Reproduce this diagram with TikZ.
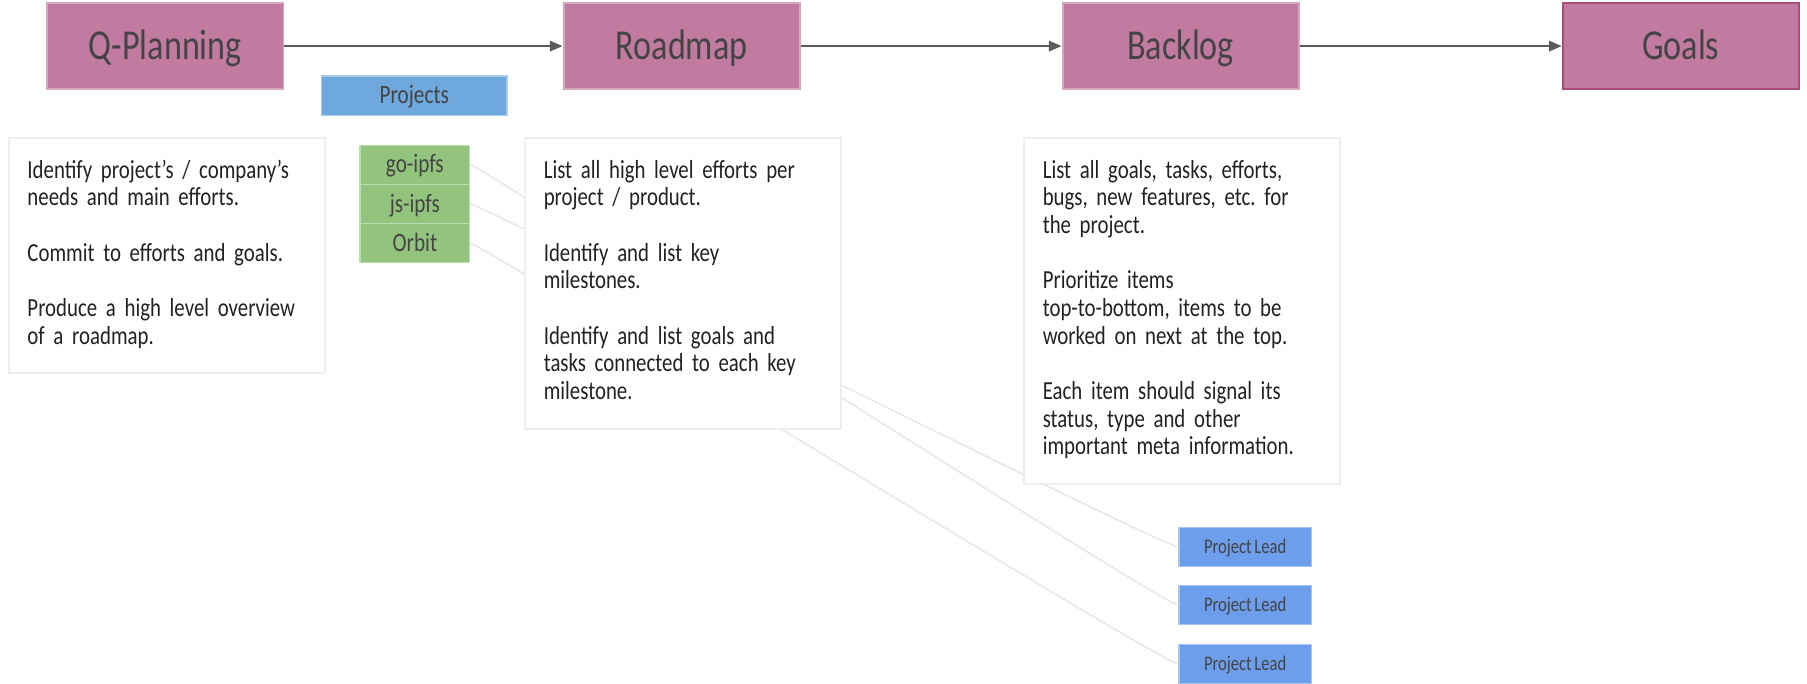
\documentclass[tikz,border=0pt]{standalone}
\usepackage{fontspec}
\setmainfont{Carlito}[FakeStretch=0.8, WordSpace=0.7]
\frenchspacing
\usetikzlibrary{arrows.meta}
\definecolor{stagepink}{HTML}{C27BA0}
\definecolor{stageedge}{HTML}{D5A6BD}
\definecolor{goaledge}{HTML}{A64D79}
\definecolor{projblue}{HTML}{6FA8DC}
\definecolor{leadblue}{HTML}{6D9EEB}
\definecolor{repogreen}{HTML}{93C47D}
\definecolor{noteedge}{HTML}{EEEEEE}
\definecolor{linkgray}{HTML}{E8E8E8}
\definecolor{arrowgray}{HTML}{5A5A5A}
\definecolor{labelgray}{HTML}{444444}
\definecolor{notetext}{HTML}{222222}

\begin{document}
\begin{tikzpicture}[x=1pt, y=-1pt,
        stage/.style={draw=stageedge, line width=1.7pt, fill=stagepink, minimum width=205pt, minimum height=74pt,
            text=labelgray, font=\fontsize{37}{40}\selectfont, text height=23pt, text depth=0pt},
        tag/.style={fill=#1, draw=#1!60!white, line width=1.2pt, inner sep=0pt, text=labelgray,
            font=\fontsize{23}{24}\selectfont, text height=14pt, text depth=0pt},
        note/.style={draw=noteedge, line width=1.7pt, fill=white, anchor=north west, text width=242pt,
            inner xsep=16pt, inner ysep=18pt, align=left, text=notetext, font=\fontsize{22.6}{24}\selectfont},
        flow/.style={draw=arrowgray, line width=1.7pt, -{Triangle[length=11pt,width=9pt]}},
        link/.style={draw=linkgray, line width=1.4pt}]
    \useasboundingbox[fill=white] (0,0) rectangle (1568,593.5);
    \node[stage] (qplan) at (143.5,40) {Q-Planning};
    \node[stage] (roadmap) at (591.5,40) {Roadmap};
    \node[stage] (backlog) at (1024.5,40) {Backlog};
    \node[stage, draw=goaledge] (goals) at (1458.5,40) {Goals};
    \foreach \a/\b in {qplan/roadmap, roadmap/backlog, backlog/goals}
        \draw[flow] (\a) -- (\b);
    \node[tag=projblue, minimum width=161pt, minimum height=34pt] (projects) at (359.5,83) {Projects};
    \foreach \n/\t/\y in {goipfs/go-ipfs/143, jsipfs/js-ipfs/177, orbit/Orbit/211}
        \node[tag=repogreen, minimum width=95pt, minimum height=34pt] (\n) at (360,\y) {\t};
    \foreach \n/\y in {lead1/474.5, lead2/525, lead3/576}
        \node[tag=leadblue, minimum width=115pt, minimum height=34pt, font=\fontsize{18}{20}\selectfont,
            text height=11pt] (\n) at (1080.5,\y) {Project Lead};
    \foreach \a/\b in {jsipfs/lead1, goipfs/lead2, orbit/lead3}
        \draw[link] (\a.east) .. controls +(8,0) and +(-14,0) .. (\b.west);
    \node[note] (plannote) at (7,119) {\strut Identify project’s / company’s\\ needs and main efforts.\\[24pt]
        Commit to efforts and goals.\\[24pt] Produce a high level overview\\ of a roadmap.\strut};
    \node[note] (roadnote) at (455,119) {\strut List all high level efforts per\\ project / product.\\[24pt]
        Identify and list key\\ milestones.\\[24pt] Identify and list goals and\\ tasks connected to each key\\ milestone.\strut};
    \node[note] (lognote) at (888,119) {\strut List all goals, tasks, efforts,\\ bugs, new features, etc. for\\ the project.\\[24pt]
        Prioritize items\\ top-to-bottom, items to be\\ worked on next at the top.\\[24pt]
        Each item should signal its\\ status, type and other\\ important meta information.\strut};
\end{tikzpicture}
\end{document}
